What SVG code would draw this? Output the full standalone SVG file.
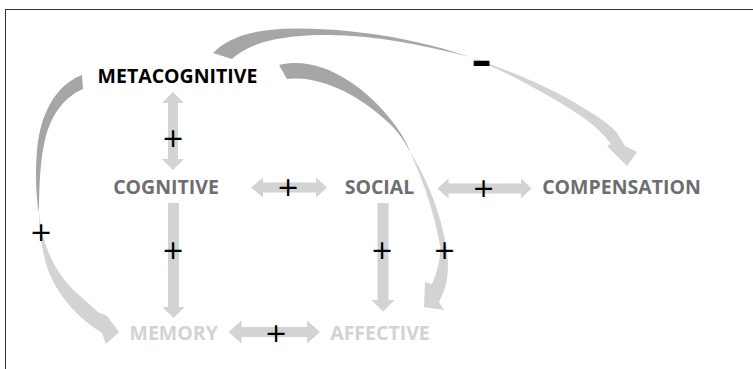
<svg xmlns="http://www.w3.org/2000/svg" width="753" height="369" viewBox="0 0 753 369">
<style>
.node{font-family:"Open Sans","Liberation Sans",sans-serif;font-weight:bold;font-size:19.5px;text-anchor:middle}
.dark{fill:#6d6e71}
.light{fill:#d1d3d4}
.meta{fill:#000}
.arr{fill:#d1d3d4}
.tail{fill:#a4a6a7}
.sign{font-family:"DejaVu Sans",sans-serif;font-size:27px;text-anchor:middle;fill:#000}
.minus{font-family:"DejaVu Sans",sans-serif;font-weight:bold;font-size:40px;text-anchor:middle;fill:#000}
</style>
<rect x="0" y="0" width="753" height="369" fill="#fff"/>
<rect x="5.5" y="9.5" width="800" height="400" fill="none" stroke="#333" stroke-width="1"/>
<g id="connectors">
  <g id="meta-comp">
    <path class="tail" d="M213,53 C230,35 260,28 300,28.5 C360,29 420,40 470,57 C420,44 370,34 320,35 C280,36 250,42 232,59 Z"/>
    <path class="arr" d="M470,57 C520,74 560,92 590,112 C605,121 614,128 619,136 L625,146 L637,152 L627,166 L607,146 L611,144 C604,135 597,128 588,121 C555,98 515,76 470,57 Z"/>
    <text class="minus" x="481.5" y="75">–</text>
  </g>
  <g id="meta-memory">
    <path class="tail" d="M82,75 C55,85 40,115 37,150 C35,175 36,195 39,213 C39,190 40,160 45,140 C50,118 62,98 83,89 Z"/>
    <path class="arr" d="M39,212 C42,245 55,275 80,296 L98,312 L107,316 L119,332 L106,344 L102,333 C78,318 58,296 48,270 C42,252 39,232 39,212 Z"/>
    <text class="sign" x="41" y="241">+</text>
  </g>
  <g id="meta-affective">
    <path class="tail" d="M279,65 C320,55 365,85 395,125 C402,135 407,143 410,152 C404,140 398,132 390,124 C360,95 320,75 287,79 Z"/>
    <path class="arr" d="M410,152 C425,175 440,210 446,245 C449,262 449,280 443,293 L439,302 L444,310 L424,307 L425,282 L432,284 C438,270 441,257 440,245 C434,212 423,180 410,152 Z"/>
    <text class="sign" x="444.5" y="259">+</text>
  </g>
  <g id="meta-cognitive">
    <path class="arr" d="M173,92 L184,103 L178,103 L178,159 L184,159 L173,170 L162,159 L168,159 L168,103 L162,103 Z"/>
    <text class="sign" x="173" y="147">+</text>
  </g>
  <g id="cognitive-memory">
    <path class="arr" d="M168,203 L179,203 L179,307 L184.5,307 L173.5,318 L162.5,307 L168,307 Z"/>
    <text class="sign" x="173" y="259">+</text>
  </g>
  <g id="cognitive-social">
    <path class="arr" d="M251,187.5 L263,177.5 L263,182.5 L316,182.5 L316,177.5 L327,187.5 L316,197.5 L316,192.5 L263,192.5 L263,197.5 Z"/>
    <text class="sign" x="288" y="196">+</text>
  </g>
  <g id="social-compensation">
    <path class="arr" d="M437.5,188.5 L448.5,178.5 L448.5,183.5 L521,183.5 L521,178.5 L531.5,188.5 L521,198.5 L521,193.5 L448.5,193.5 L448.5,198.5 Z"/>
    <text class="sign" x="483.5" y="197">+</text>
  </g>
  <g id="social-affective">
    <path class="arr" d="M377.5,203 L388.5,203 L388.5,300 L394.5,300 L383,311.5 L371.5,300 L377.5,300 Z"/>
    <text class="sign" x="382" y="259">+</text>
  </g>
  <g id="memory-affective">
    <path class="arr" d="M228.5,332 L241.5,320.5 L241.5,327 L307,327 L307,320.5 L320,332 L307,343.5 L307,337 L241.5,337 L241.5,343.5 Z"/>
    <text class="sign" x="276" y="342">+</text>
  </g>
</g>
<g id="metacognitive"><text class="node meta" x="177.5" y="83">METACOGNITIVE</text></g>
<g id="cognitive"><text class="node dark" x="166" y="193.5">COGNITIVE</text></g>
<g id="social"><text class="node dark" x="379.5" y="194">SOCIAL</text></g>
<g id="compensation"><text class="node dark" x="621.5" y="194">COMPENSATION</text></g>
<g id="memory"><text class="node light" x="173.7" y="339.5">MEMORY</text></g>
<g id="affective"><text class="node light" x="380" y="339.5">AFFECTIVE</text></g>
</svg>
